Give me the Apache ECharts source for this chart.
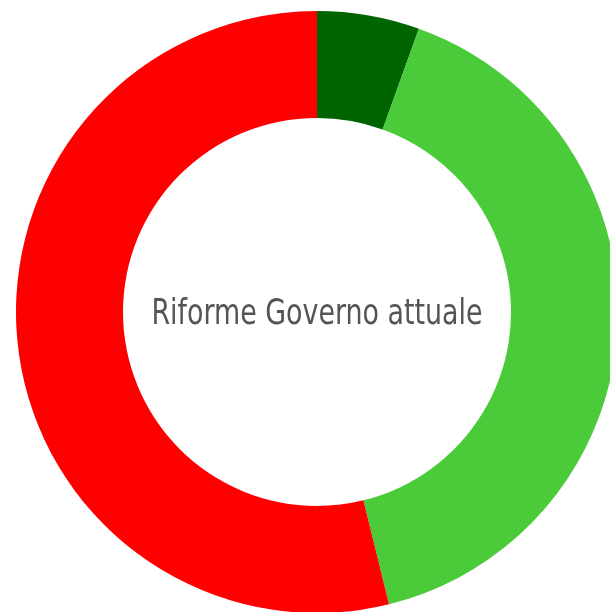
<!DOCTYPE html>
<html>
<head>
<meta charset="utf-8">
<script src="https://cdn.jsdelivr.net/npm/echarts@6/dist/echarts.min.js"></script>
<style>html,body{margin:0;padding:0;background:#fff;}#c{width:610px;height:612px;}</style>
</head>
<body>
<div id="c"></div>
<script>
const categories = ['Completate', 'In corso', 'Non avviate'];
const values = [5, 37, 49];
const colors = ['#006400', '#4BCB3A', '#FF0000'];
const centerText = 'Riforme Governo attuale';

const chart = echarts.init(document.getElementById('c'), null, {renderer: 'canvas'});
chart.setOption({
  animation: false,
  backgroundColor: '#ffffff',
  graphic: [{
    type: 'text',
    x: 317, y: 315,
    scaleX: 0.83,
    style: {
      text: centerText,
      fontFamily: '"DejaVu Sans Condensed", "Liberation Sans Narrow", sans-serif',
      fontSize: 36,
      fill: '#555555',
      textAlign: 'center',
      textVerticalAlign: 'middle'
    },
    z: 10
  }],
  series: [{
    type: 'pie',
    center: [317, 312],
    radius: [194, 301],
    startAngle: 90,
    clockwise: true,
    label: {show: false},
    labelLine: {show: false},
    emphasis: {disabled: true},
    itemStyle: {borderWidth: 0},
    data: categories.map((n, i) => ({name: n, value: values[i], itemStyle: {color: colors[i]}}))
  }]
});
</script>
</body>
</html>
